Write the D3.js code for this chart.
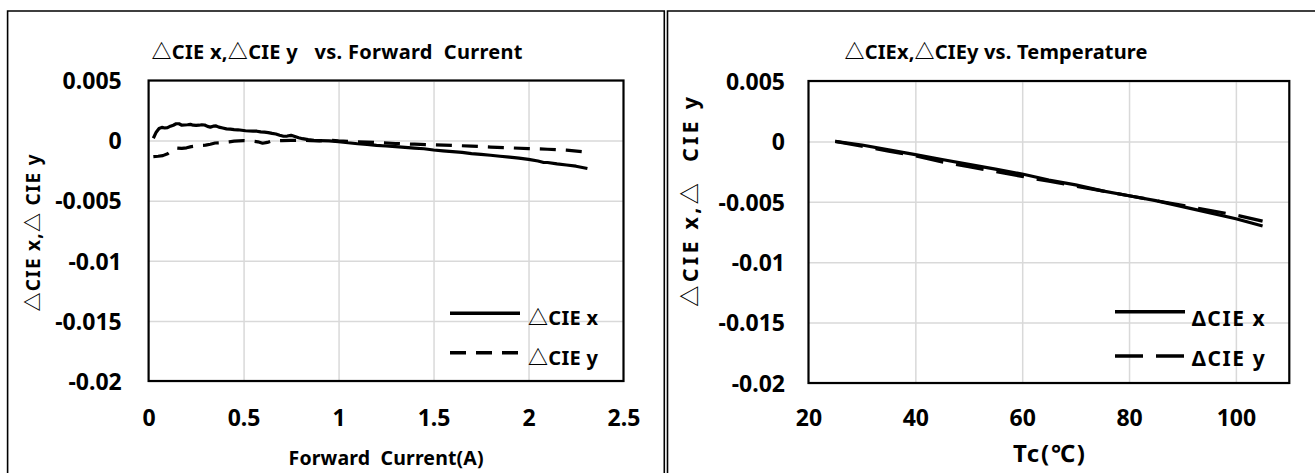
<!DOCTYPE html>
<html><head><meta charset="utf-8">
<script src="https://cdn.jsdelivr.net/npm/d3@7"></script>
<style>
html,body{margin:0;padding:0;background:#fff;}
svg{display:block;}
text{font-family:'Noto Sans','Noto Sans CJK KR','DejaVu Sans',sans-serif;font-weight:bold;fill:#000;white-space:pre;}
</style>
</head><body>
<svg id="c" width="1315" height="473"></svg>
<script>
// ---- data: ΔCIE vs forward current ----
const currentForX = [0.025,0.04,0.055,0.07,0.085,0.10,0.115,0.13,0.145,0.16,0.175,0.19,0.205,0.22,0.235,0.25,0.265,0.28,0.295,0.31,0.325,0.34,0.355,0.37,0.39,0.41,0.43,0.45,0.47,0.49,0.51,0.53,0.55,0.57,0.59,0.61,0.63,0.65,0.67,0.69,0.71,0.73,0.75,0.77,0.79,0.81,0.84,0.87,0.90,0.95,1.0,1.05,1.1,1.15,1.2,1.25,1.3,1.35,1.4,1.45,1.5,1.55,1.6,1.65,1.7,1.75,1.8,1.85,1.9,1.95,2.0,2.05,2.08,2.1,2.15,2.2,2.25,2.31];
const dCIEx_current = [0.0002,0.0007,0.001,0.0011,0.00105,0.00108,0.0012,0.00128,0.0014,0.0014,0.00128,0.0013,0.00132,0.00135,0.00128,0.00126,0.00128,0.00132,0.0013,0.00118,0.00112,0.0012,0.00122,0.00112,0.00105,0.00098,0.00095,0.00092,0.0009,0.00086,0.00082,0.0008,0.00079,0.00078,0.00072,0.0007,0.00066,0.0006,0.00055,0.00045,0.00036,0.00038,0.00044,0.00034,0.00024,0.00016,0.00008,0.00002,0,-0.00003,-0.00008,-0.00018,-0.00026,-0.00032,-0.0004,-0.00045,-0.0005,-0.00056,-0.00062,-0.00068,-0.00078,-0.00085,-0.00092,-0.00098,-0.00108,-0.00114,-0.00122,-0.0013,-0.00138,-0.00146,-0.00156,-0.0017,-0.00182,-0.00182,-0.00194,-0.00203,-0.00213,-0.00232];
const currentForY = [0.025,0.05,0.075,0.1,0.125,0.15,0.175,0.2,0.225,0.25,0.275,0.3,0.325,0.35,0.375,0.4,0.425,0.45,0.475,0.5,0.525,0.55,0.575,0.6,0.625,0.65,0.7,0.75,0.8,0.85,0.9,0.95,1.0,1.1,1.2,1.3,1.4,1.5,1.6,1.7,1.8,1.9,2.0,2.1,2.2,2.31];
const dCIEy_current = [-0.00133,-0.0013,-0.00125,-0.0011,-0.0008,-0.00062,-0.00065,-0.0006,-0.0005,-0.00045,-0.0004,-0.00038,-0.0003,-0.0002,-0.00018,-0.00014,-0.0001,-0.00005,-0.00002,0,-0.00002,-0.00005,-0.0001,-0.00022,-0.00015,-0.00002,0,0.00002,0.00002,0,-0.00002,0.00003,-0.00003,-0.0001,-0.00016,-0.00024,-0.0003,-0.00035,-0.0004,-0.00046,-0.00054,-0.0006,-0.00066,-0.00072,-0.0008,-0.00097];

// ---- data: ΔCIE vs case temperature ----
const tempC = [25,30,35,40,45,50,55,60,65,70,75,80,85,90,95,100,105];
const dCIEx_temp = [0,-0.0003,-0.0007,-0.0011,-0.0015,-0.0019,-0.0023,-0.0027,-0.0032,-0.0036,-0.0041,-0.0045,-0.0049,-0.0054,-0.0059,-0.0064,-0.0070];
const dCIEy_temp = [0,-0.0004,-0.0008,-0.0012,-0.0017,-0.0021,-0.0025,-0.0029,-0.0033,-0.0037,-0.0041,-0.0045,-0.0049,-0.0053,-0.0057,-0.0061,-0.0066];

// ---- tick labels ----
const yTickValues = [0.005,0,-0.005,-0.01,-0.015,-0.02];
const yTickLabels = ["0.005","0","-0.005","-0.01","-0.015","-0.02"];
const currentTickValues = [0,0.5,1,1.5,2,2.5];
const currentTickLabels = ["0","0.5","1","1.5","2","2.5"];
const tempTickValues = [20,40,60,80,100];
const tempTickLabels = ["20","40","60","80","100"];
const tempGridValues = [40,60,80,100];
const currentGridValues = [0.5,1,1.5,2];

const svg = d3.select("#c");

const panels = [
  {
    frame:{x0:7.6,x1:664.3,y0:11},
    plot:{l:148.6,r:623.5,t:80.5,b:381},
    xDomain:[0,2.5], xTicks:currentTickValues, xLabels:currentTickLabels, xGrid:currentGridValues,
    series:[
      {xs:currentForX, ys:dCIEx_current, dash:null, name:"△CIE x"},
      {xs:currentForY, ys:dCIEy_current, dash:"16,10", name:"△CIE y"}
    ],
    title:{text:"△CIE x,△CIE y   vs. Forward  Current", cx:337, cy:52, size:20, len:371},
    xTitle:{text:"Forward  Current(A)", cy:458, size:19.5, len:195},
    yTitle:{text:"△CIE x,△ CIE y", cx:33, cy:233, size:19, len:157},
    yLabelRight:121.7, xLabelY:418, tickSize:23,
    legend:{x0:450,x1:520,tx:528,ys:[313.3,352.7],tys:[318,358],size:20,len:70,dash:"16,10"}
  },
  {
    frame:{x0:667.5,x1:1330,y0:11},
    plot:{l:808.5,r:1289.3,t:81,b:383},
    xDomain:[20,110], xTicks:tempTickValues, xLabels:tempTickLabels, xGrid:tempGridValues,
    series:[
      {xs:tempC, ys:dCIEx_temp, dash:null, name:"ΔCIE x"},
      {xs:tempC, ys:dCIEy_temp, dash:"28,13", name:"ΔCIE y"}
    ],
    title:{text:"△CIEx,△CIEy vs. Temperature", cx:996, cy:52, size:20, len:303},
    xTitle:{text:"Tc(℃)", cy:453, size:24, len:72},
    yTitle:{text:"△CIE x,△  CIE y", cx:690, cy:202, size:21.5, len:210},
    yLabelRight:785, xLabelY:418, tickSize:23,
    legend:{x0:1115,x1:1185,tx:1191.7,ys:[311.7,356],tys:[318,358],size:21,len:73,dash:"28,13"}
  }
];

panels.forEach(p => {
  const g = svg.append("g");
  // outer chart frame (bottom edge falls outside the picture)
  g.append("path")
    .attr("d", `M${p.frame.x0},520 L${p.frame.x0},${p.frame.y0} L${p.frame.x1},${p.frame.y0} L${p.frame.x1},520`)
    .attr("fill","none").attr("stroke","#000").attr("stroke-width",1.6);

  const x = d3.scaleLinear().domain(p.xDomain).range([p.plot.l, p.plot.r]);
  const y = d3.scaleLinear().domain([-0.02,0.005]).range([p.plot.b, p.plot.t]);

  // gridlines
  const gy = g.append("g").attr("transform",`translate(${p.plot.l},0)`)
    .call(d3.axisLeft(y).tickValues(yTickValues).tickSize(-(p.plot.r-p.plot.l)).tickFormat(""));
  gy.select(".domain").remove();
  gy.selectAll("line").attr("stroke","#d9d9d9").attr("stroke-width",1.5);
  const gx = g.append("g").attr("transform",`translate(0,${p.plot.b})`)
    .call(d3.axisBottom(x).tickValues(p.xGrid).tickSize(-(p.plot.b-p.plot.t)).tickFormat(""));
  gx.select(".domain").remove();
  gx.selectAll("line").attr("stroke","#d9d9d9").attr("stroke-width",1.5);

  // series
  p.series.forEach(s => {
    const pts = s.xs.map((v,i)=>[v, s.ys[i]]);
    g.append("path").datum(pts)
      .attr("d", d3.line().x(d=>x(d[0])).y(d=>y(d[1])))
      .attr("fill","none").attr("stroke","#000").attr("stroke-width",3.2)
      .attr("stroke-linejoin","round")
      .attr("stroke-dasharray", s.dash);
  });

  // plot border
  g.append("rect").attr("x",p.plot.l).attr("y",p.plot.t)
    .attr("width",p.plot.r-p.plot.l).attr("height",p.plot.b-p.plot.t)
    .attr("fill","none").attr("stroke","#000").attr("stroke-width",2.2);

  const ff = "'Noto Sans','Noto Sans CJK KR','DejaVu Sans',sans-serif";
  // y tick labels
  const ay = g.append("g").attr("transform",`translate(${p.yLabelRight},0)`)
    .call(d3.axisLeft(y).tickValues(yTickValues).tickSize(0).tickPadding(0)
      .tickFormat((d,i)=>yTickLabels[i]));
  ay.select(".domain").remove();
  ay.selectAll("text").attr("font-size",p.tickSize).attr("dy","0.36em")
    .style("font-family",ff).style("font-weight","bold");

  // x tick labels
  const ax = g.append("g").attr("transform",`translate(0,${p.xLabelY})`)
    .call(d3.axisBottom(x).tickValues(p.xTicks).tickSize(0).tickPadding(0)
      .tickFormat((d,i)=>p.xLabels[i]));
  ax.select(".domain").remove();
  ax.selectAll("text").attr("y",0).attr("dy","0.36em").attr("font-size",p.tickSize)
    .style("font-family",ff).style("font-weight","bold");

  // titles
  g.append("text").attr("x",p.title.cx).attr("y",p.title.cy).attr("dy","0.36em")
    .attr("text-anchor","middle").attr("font-size",p.title.size)
    .attr("textLength",p.title.len).attr("lengthAdjust","spacing").text(p.title.text);
  g.append("text").attr("x",(p.plot.l+p.plot.r)/2).attr("y",p.xTitle.cy).attr("dy","0.36em")
    .attr("text-anchor","middle").attr("font-size",p.xTitle.size)
    .attr("textLength",p.xTitle.len).attr("lengthAdjust","spacing").text(p.xTitle.text);
  g.append("text").attr("transform",`translate(${p.yTitle.cx},${p.yTitle.cy}) rotate(-90)`)
    .attr("dy","0.36em").attr("text-anchor","middle").attr("font-size",p.yTitle.size)
    .attr("textLength",p.yTitle.len).attr("lengthAdjust","spacing").text(p.yTitle.text);

  // legend
  p.series.forEach((s,i) => {
    g.append("line").attr("x1",p.legend.x0).attr("x2",p.legend.x1)
      .attr("y1",p.legend.ys[i]).attr("y2",p.legend.ys[i])
      .attr("stroke","#000").attr("stroke-width",3.6)
      .attr("stroke-dasharray", i===1 ? p.legend.dash : null);
    g.append("text").attr("x",p.legend.tx).attr("y",p.legend.tys[i]).attr("dy","0.36em")
      .attr("font-size",p.legend.size).attr("textLength",p.legend.len)
      .attr("lengthAdjust","spacing").text(s.name);
  });
});
</script>
</body></html>
